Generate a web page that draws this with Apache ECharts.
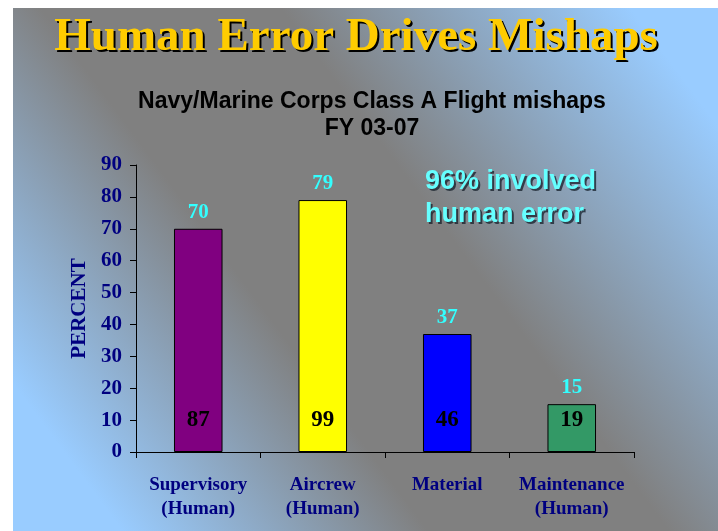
<!DOCTYPE html>
<html>
<head>
<meta charset="utf-8">
<script src="https://cdn.jsdelivr.net/npm/echarts@6/dist/echarts.min.js"></script>
<style>html,body{margin:0;padding:0;background:#fff;}#c{width:718px;height:531px;}</style>
</head>
<body>
<div id="c"></div>
<script>
var categories = ['Supervisory\n(Human)', 'Aircrew\n(Human)', 'Material', 'Maintenance\n(Human)'];
var percentValues = [70, 79, 37, 15];
var mishapCounts = [87, 99, 46, 19];
var barColors = ['#800080', '#FFFF00', '#0000FF', '#339966'];
var yTicks = {min: 0, max: 90, interval: 10};
var titleText = 'Human Error Drives Mishaps';
var subtitleText = 'Navy/Marine Corps Class A Flight mishaps\nFY 03-07';
var noteText = '96% involved\nhuman error';
var yAxisName = 'PERCENT';

var chart = echarts.init(document.getElementById('c'), null, {renderer: 'canvas'});
var serif = '"Liberation Serif","Times New Roman",serif';
var sans = '"Liberation Sans",Arial,sans-serif';
var option = {
  animation: false,
  backgroundColor: '#ffffff',
  graphic: [
    {type: 'rect', z: -100, left: 13, top: 8, shape: {width: 705, height: 523},
     style: {fill: new echarts.graphic.LinearGradient(0, 1, 1, 0, [
       {offset: 0, color: '#99CCFF'},
       {offset: 0.1, color: '#99CCFF'},
       {offset: 0.38, color: '#808080'},
       {offset: 0.6, color: '#808080'},
       {offset: 0.92, color: '#99CCFF'},
       {offset: 1, color: '#99CCFF'}
     ])}},
    {type: 'text', left: 427, top: 167, z: 9,
     style: {text: noteText, font: 'bold 27px ' + sans, fill: 'rgba(20,30,40,0.75)', lineHeight: 33}},
    {type: 'text', left: 425, top: 165, z: 10,
     style: {text: noteText, font: 'bold 27px ' + sans, fill: '#66FFFF', lineHeight: 33}}
  ],
  title: [
    {text: titleText, top: 11, left: 353, textAlign: 'center',
     textStyle: {fontFamily: serif, fontWeight: 'bold', fontSize: 47, color: '#000000'}},
    {text: titleText, top: 9, left: 351, textAlign: 'center',
     textStyle: {fontFamily: serif, fontWeight: 'bold', fontSize: 47, color: '#FFCC00'}},
    {text: subtitleText, left: 367, textAlign: 'center', top: 83,
     textStyle: {fontFamily: sans, fontWeight: 'bold', fontSize: 23, color: '#000000', lineHeight: 27}}
  ],
  grid: {left: 136, right: 84, top: 165, bottom: 79},
  xAxis: {
    type: 'category', data: categories,
    axisLine: {lineStyle: {color: '#000000', width: 1}},
    axisTick: {show: true, length: 6, lineStyle: {color: '#000000'}},
    axisLabel: {interval: 0, fontFamily: serif, fontWeight: 'bold', fontSize: 19, color: '#000080', lineHeight: 24, margin: 21}
  },
  yAxis: {
    type: 'value', min: yTicks.min, max: yTicks.max, interval: yTicks.interval,
    name: yAxisName, nameLocation: 'middle', nameGap: 44,
    nameTextStyle: {fontFamily: serif, fontWeight: 'bold', fontSize: 21, color: '#000080'},
    axisLine: {show: true, lineStyle: {color: '#000000', width: 1}},
    axisTick: {show: true, length: 6, lineStyle: {color: '#000000'}},
    splitLine: {show: false},
    axisLabel: {fontFamily: serif, fontWeight: 'bold', fontSize: 21, color: '#000080', margin: 14}
  },
  series: [
    {type: 'bar', barWidth: '39%',
     data: percentValues.map(function (v, i) {
       return {value: v, itemStyle: {color: barColors[i], borderColor: '#000000', borderWidth: 1}};
     }),
     label: {show: true, position: 'insideBottom', distance: 20,
       formatter: function (p) { return String(mishapCounts[p.dataIndex]); },
       fontFamily: serif, fontWeight: 'bold', fontSize: 23, color: '#000000'}},
    {type: 'bar', barWidth: '39%', barGap: '-100%', silent: true,
     data: percentValues,
     itemStyle: {color: 'rgba(0,0,0,0)'},
     label: {show: true, position: 'top', distance: 6,
       fontFamily: serif, fontWeight: 'bold', fontSize: 21, color: '#33FFFF'}}
  ]
};
chart.setOption(option);
</script>
</body>
</html>
